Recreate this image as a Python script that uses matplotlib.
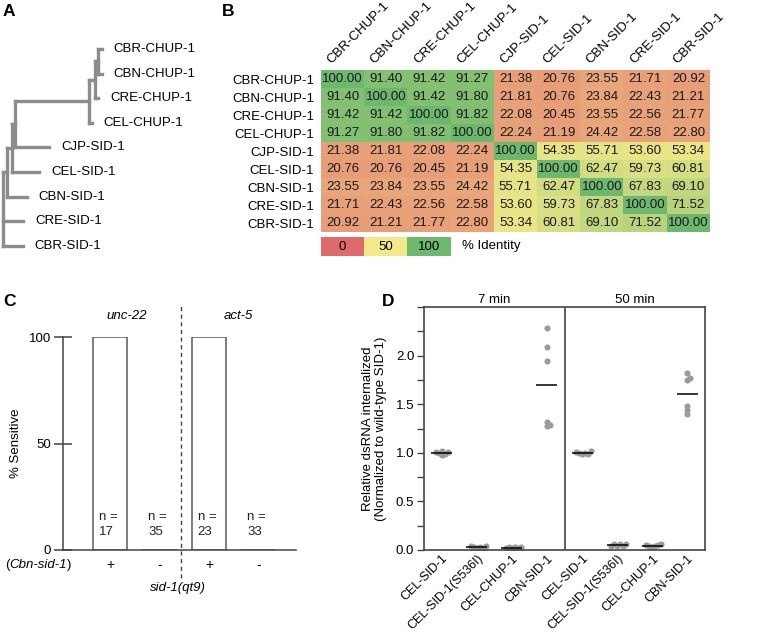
"""Four-panel figure: SID-1 / CHUP-1 tree, identity matrix, rescue assay, dsRNA uptake."""
import numpy as np
import matplotlib
matplotlib.use("Agg")
import matplotlib.pyplot as plt
from matplotlib.colors import LinearSegmentedColormap, Normalize
from matplotlib.transforms import offset_copy

plt.rcParams["font.family"] = ["Liberation Sans", "DejaVu Sans"]
plt.rcParams["font.size"] = 9.5

# ---- panel A: tree ----
tree_leaves = ["CBR-CHUP-1", "CBN-CHUP-1", "CRE-CHUP-1", "CEL-CHUP-1",
               "CJP-SID-1", "CEL-SID-1", "CBN-SID-1", "CRE-SID-1", "CBR-SID-1"]
leaf_depth = [101.7, 101.7, 98.3, 91.7, 49.3, 39.3, 26.7, 23.3, 22.7]
# internal nodes: name -> (depth, children); ints are leaf indices
tree_nodes = {
    "n1": (97.7, [0, 1]),
    "n2": (95.0, ["n1", 2]),
    "n3": (89.3, ["n2", 3]),
    "n4": (15.0, ["n3", 4]),
    "n5": (11.7, ["n4", 5]),
    "n6": (7.3, ["n5", 6]),
    "root": (3.3, ["n6", 7, 8]),
}

# ---- panel B: % identity ----
ident_labels = tree_leaves
identity = [
    [100.00, 91.40, 91.42, 91.27, 21.38, 20.76, 23.55, 21.71, 20.92],
    [91.40, 100.00, 91.42, 91.80, 21.81, 20.76, 23.84, 22.43, 21.21],
    [91.42, 91.42, 100.00, 91.82, 22.08, 20.45, 23.55, 22.56, 21.77],
    [91.27, 91.80, 91.82, 100.00, 22.24, 21.19, 24.42, 22.58, 22.80],
    [21.38, 21.81, 22.08, 22.24, 100.00, 54.35, 55.71, 53.60, 53.34],
    [20.76, 20.76, 20.45, 21.19, 54.35, 100.00, 62.47, 59.73, 60.81],
    [23.55, 23.84, 23.55, 24.42, 55.71, 62.47, 100.00, 67.83, 69.10],
    [21.71, 22.43, 22.56, 22.58, 53.60, 59.73, 67.83, 100.00, 71.52],
    [20.92, 21.21, 21.77, 22.80, 53.34, 60.81, 69.10, 71.52, 100.00],
]
legend_steps = [0, 50, 100]

# ---- panel C: feeding RNAi sensitivity ----
c_genotype = ["+", "-", "+", "-"]
c_sensitive = [100, 0, 100, 0]
c_n = [17, 35, 23, 33]
c_targets = ["unc-22", "act-5"]

# ---- panel D: dsRNA uptake ----
d_groups = ["CEL-SID-1", "CEL-SID-1(S536I)", "CEL-CHUP-1", "CBN-SID-1"]
d_times = ["7 min", "50 min"]
d_7min = [
    [1.01, 0.99, 1.02, 0.98, 1.00, 1.01],
    [0.03, 0.04, 0.02, 0.04, 0.03, 0.02],
    [0.02, 0.03, 0.02, 0.03, 0.02, 0.03],
    [2.28, 2.09, 1.94, 1.32, 1.275, 1.29],
]
d_50min = [
    [1.00, 1.02, 0.99, 1.00, 1.01, 0.99],
    [0.06, 0.06, 0.06, 0.04, 0.04, 0.04],
    [0.05, 0.06, 0.04, 0.04, 0.03, 0.05],
    [1.82, 1.765, 1.75, 1.48, 1.445, 1.40],
]

W, H = 777, 635
fig = plt.figure(figsize=(W / 100, H / 100), dpi=100)


def px_axes(x0, y0, x1, y1):
    return fig.add_axes([x0 / W, 1 - y1 / H, (x1 - x0) / W, (y1 - y0) / H])


def swarm_offsets(vals, xpx, ypx, dmin=3.0, step=0.085):
    # tiny beeswarm: push a point sideways until it clears the ones already placed
    placed, offs = [], np.zeros(len(vals))
    for i in np.argsort(vals):
        cands = [0.0]
        for m in range(1, 12):
            cands += [m * step, -m * step]
        for c in cands:
            if all(np.hypot((c - o) * xpx, (vals[i] - v) * ypx) >= dmin for o, v in placed):
                break
        offs[i] = c
        placed.append((c, vals[i]))
    return offs


for letter, x, y in [("A", 9, 12), ("B", 228, 12), ("C", 9, 302), ("D", 388, 302)]:
    fig.text(x / W, 1 - y / H, letter, fontsize=12.5, fontweight="bold", ha="center", va="center")

# ================= A =================
ax_a = px_axes(0, 0, 215, 270)
ax_a.set_xlim(0, 215)
ax_a.set_ylim(8.98, -1.99)
ax_a.axis("off")
tree_col = "#8c8c8c"
node_y = {}


def child_pos(c):
    if isinstance(c, int):
        return leaf_depth[c], float(c)
    return tree_nodes[c][0], node_y[c]


for name, (depth, kids) in tree_nodes.items():
    ys = [child_pos(k)[1] for k in kids]
    node_y[name] = (min(ys) + max(ys)) / 2
    ax_a.plot([depth, depth], [min(ys), max(ys)], color=tree_col, lw=2.4,
              solid_capstyle="projecting")
    for k in kids:
        kx, ky = child_pos(k)
        ax_a.plot([depth, kx], [ky, ky], color=tree_col, lw=2.4, solid_capstyle="projecting")

for i, name in enumerate(tree_leaves):
    ax_a.text(leaf_depth[i] + 12, i, name, ha="left", va="center")

# ================= B =================
cmap = LinearSegmentedColormap.from_list("ident", ["#de6a6c", "#f4e98a", "#6db86e"])
norm = Normalize(0, 100)
ax_b = px_axes(321, 70, 710, 232)
mat = np.array(identity)
ax_b.imshow(mat, cmap=cmap, norm=norm, aspect="auto", interpolation="nearest")
for i in range(mat.shape[0]):
    for j in range(mat.shape[1]):
        ax_b.text(j, i, f"{mat[i, j]:.2f}", ha="center", va="center", color="#1a1a1a")
ax_b.set_yticks(range(len(ident_labels)))
ax_b.set_yticklabels(ident_labels)
ax_b.set_xticks([])
ax_b.tick_params(axis="y", length=0, pad=5)
for s in ax_b.spines.values():
    s.set_visible(False)
lab_tr = offset_copy(ax_b.transData, fig=fig, x=-9, y=4, units="dots")
for j, name in enumerate(ident_labels):
    ax_b.text(j, -0.5, name, rotation=45, ha="left", va="bottom",
              rotation_mode="anchor", transform=lab_tr)

ax_leg = px_axes(321, 237, 710, 256)
ax_leg.set_xlim(-0.5, 8.5)
ax_leg.set_ylim(0, 1)
ax_leg.axis("off")
for k, v in enumerate(legend_steps):
    ax_leg.add_patch(plt.Rectangle((k - 0.5, 0), 1, 1, color=cmap(norm(v)), lw=0))
    ax_leg.text(k, 0.5, str(v), ha="center", va="center")
ax_leg.text(len(legend_steps) - 0.5 + 0.27, 0.5, "% Identity", ha="left", va="center")

# ================= C =================
ax_c = px_axes(63, 337, 296, 550)
xc = np.arange(1, len(c_sensitive) + 1)
ax_c.bar(xc, c_sensitive, width=0.69, facecolor="white", edgecolor="#5a5a5a", lw=1.1)
ax_c.set_xlim(0.05, 4.76)
ax_c.set_ylim(0, 100)
ax_c.set_yticks([0, 50, 100])
ax_c.tick_params(axis="y", direction="inout", length=13, width=1.1, color="#444", pad=2)
ax_c.set_xticks(xc)
ax_c.set_xticklabels(c_genotype, fontsize=10)
ax_c.tick_params(axis="x", length=0, pad=6)
for s in ["top", "right"]:
    ax_c.spines[s].set_visible(False)
for s in ["left", "bottom"]:
    ax_c.spines[s].set_color("#444")
    ax_c.spines[s].set_linewidth(1.1)
ax_c.set_ylabel("% Sensitive", labelpad=5)
for x, n in zip(xc, c_n):
    ax_c.text(x - 0.23, 12, f"n =\n{n}", ha="left", va="center", linespacing=1.25, color="#222")
divider = 2.43
ax_c.plot([divider, divider], [-13, 115], ls=(0, (3, 2.5)), color="#444", lw=1, clip_on=False)
ax_c.text((0.05 + divider) / 2 + 0.1, 110, c_targets[0], ha="center", va="center", style="italic")
ax_c.text((divider + 4.76) / 2, 110, c_targets[1], ha="center", va="center", style="italic")
ax_c.text(2.37, -18, "sid-1(qt9)", ha="center", va="center", style="italic")
mid = ax_c.text(-0.45, -7, "Cbn-sid-1", ha="center", va="center", style="italic")
fig.canvas.draw()
bb = mid.get_window_extent()
ax_c.text(-0.45, -7, "(", ha="right", va="center",
          transform=offset_copy(ax_c.transData, fig=fig, x=-bb.width / 2, units="dots"))
ax_c.text(-0.45, -7, ")", ha="left", va="center",
          transform=offset_copy(ax_c.transData, fig=fig, x=bb.width / 2, units="dots"))

# ================= D =================
ax_d = px_axes(424, 307, 705, 550)
ax_d.set_xlim(-0.5, 7.5)
ax_d.set_ylim(0, 2.5)
xpx, ypx = 281 / 8, 243 / 2.5
pos = 0
xt, xl = [], []
for series in [d_7min, d_50min]:
    for g, vals in enumerate(series):
        vals = np.array(vals)
        offs = swarm_offsets(vals, xpx, ypx)
        ax_d.plot(pos + offs, vals, "o", color="#9a9a9a", ms=4.4, mec="none", zorder=2)
        ax_d.hlines(vals.mean(), pos - 0.3, pos + 0.3, color="black", lw=1.1, zorder=3)
        xt.append(pos)
        xl.append(d_groups[g])
        pos += 1
ax_d.axvline(3.5, color="#444", lw=1.2)
ax_d.set_xticks(xt)
ax_d.set_xticklabels(xl, rotation=45, ha="right", va="top", rotation_mode="anchor", fontsize=9)
ax_d.tick_params(axis="x", length=0, pad=2)
ax_d.set_yticks(np.arange(0, 2.01, 0.5))
ax_d.set_yticks(np.arange(0, 2.51, 0.25), minor=True)
ax_d.yaxis.set_major_formatter(matplotlib.ticker.FormatStrFormatter("%.1f"))
ax_d.tick_params(axis="y", which="both", length=5, width=1, color="#444", pad=2)
for s in ax_d.spines.values():
    s.set_color("#444")
    s.set_linewidth(1.2)
ax_d.set_ylabel("Relative dsRNA internalized\n(Normalized to wild-type SID-1)", labelpad=6)
for k, t in enumerate(d_times):
    ax_d.text(1.5 + 4 * k, 2.5, t, ha="center", va="bottom",
              transform=offset_copy(ax_d.transData, fig=fig, y=1, units="dots"))

fig.savefig("out.png", dpi=100)
